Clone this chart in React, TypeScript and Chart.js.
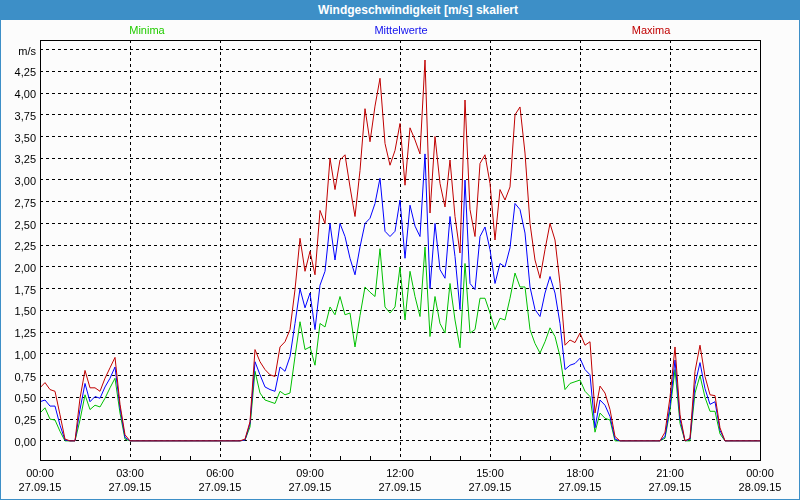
import React, { useEffect, useRef } from "react";
import { Chart, registerables } from "chart.js";

Chart.register(...registerables);

const TITLE = "Windgeschwindigkeit [m/s] skaliert";
const SERIES_NAMES = ["Minima", "Mittelwerte", "Maxima"];
const SERIES_COLORS = ["#00c000", "#0000ff", "#c00000"];
const LEGEND_TEXT_COLORS = ["#22cc00", "#1010ee", "#c00000"];
const Y_UNIT = "m/s";
const Y_TICK_VALUES = [0, 0.25, 0.5, 0.75, 1, 1.25, 1.5, 1.75, 2, 2.25, 2.5, 2.75, 3, 3.25, 3.5, 3.75, 4, 4.25, 4.5];
const X_TICK_VALUES = [0, 180, 360, 540, 720, 900, 1080, 1260, 1440];
const X_TICK_LABELS = [
  ["00:00", "27.09.15"],
  ["03:00", "27.09.15"],
  ["06:00", "27.09.15"],
  ["09:00", "27.09.15"],
  ["12:00", "27.09.15"],
  ["15:00", "27.09.15"],
  ["18:00", "27.09.15"],
  ["21:00", "27.09.15"],
  ["00:00", "28.09.15"],
];
const STEP_MINUTES = 10;

const MAXIMA = [
  0.61, 0.67, 0.59, 0.57, 0.3, 0.02, 0, 0, 0.49, 0.81, 0.61, 0.61, 0.57, 0.72, 0.84, 0.96, 0.42, 0.07,
  0, 0, 0, 0, 0, 0, 0, 0, 0, 0, 0, 0, 0, 0, 0, 0, 0, 0, 0, 0, 0, 0, 0,
  0.02, 0.22, 1.05, 0.91, 0.82, 0.76, 0.74, 1.08, 1.14, 1.28, 1.74, 2.33, 1.95, 2.18, 1.91, 2.65, 2.5,
  3.25, 2.89, 3.23, 3.29, 2.92, 2.58, 3.11, 3.82, 3.44, 3.85, 4.17, 3.42, 3.17, 3.34, 3.65, 2.94, 3.6,
  3.46, 3.3, 4.38, 2.62, 3.5, 2.96, 2.69, 3.23, 2.58, 2.16, 3.92, 2.66, 2.35, 3.19, 3.29, 2.96, 2.31,
  2.89, 2.77, 2.92, 3.75, 3.84, 3.31, 2.5, 2.08, 1.87, 2.2, 2.5, 2.31, 1.81, 1.1, 1.16, 1.13, 1.24,
  1.1, 1.14, 0.32, 0.63, 0.55, 0.36, 0.05,
  0, 0, 0, 0, 0, 0, 0, 0, 0,
  0.1, 0.5, 1.08, 0.3, 0, 0.03, 0.8, 1.1, 0.74, 0.53, 0.52, 0.15,
  0, 0, 0, 0, 0, 0, 0, 0,
];

const MITTELWERTE = [
  0.45, 0.47, 0.4, 0.4, 0.18, 0.01, 0, 0, 0.36, 0.66, 0.45, 0.51, 0.49, 0.62, 0.72, 0.85, 0.38, 0.04,
  0, 0, 0, 0, 0, 0, 0, 0, 0, 0, 0, 0, 0, 0, 0, 0, 0, 0, 0, 0, 0, 0, 0,
  0.01, 0.2, 0.91, 0.76, 0.62, 0.59, 0.57, 0.85, 0.8, 0.97, 1.35, 1.75, 1.53, 1.7, 1.28, 1.79, 1.95,
  2.5, 2.08, 2.5, 2.35, 2.1, 1.91, 2.23, 2.5, 2.56, 2.73, 3.02, 2.41, 2.35, 2.41, 2.77, 2.1, 2.71,
  2.47, 2.35, 3.3, 1.75, 2.5, 1.97, 1.87, 2.58, 2.12, 1.51, 3.0, 1.81, 1.74, 2.35, 2.46, 2.2, 1.81,
  2.04, 2.0, 2.22, 2.73, 2.66, 2.39, 1.77, 1.51, 1.43, 1.7, 1.89, 1.7, 1.35, 0.82, 0.87, 0.89, 0.95,
  0.82, 0.76, 0.15, 0.47, 0.41, 0.28, 0.02,
  0, 0, 0, 0, 0, 0, 0, 0, 0,
  0.05, 0.4, 0.93, 0.25, 0, 0.02, 0.65, 0.9, 0.6, 0.42, 0.45, 0.12,
  0, 0, 0, 0, 0, 0, 0, 0,
];

const MINIMA = [
  0.32, 0.38, 0.25, 0.24, 0.11, 0, 0, 0, 0.24, 0.53, 0.36, 0.41, 0.39, 0.49, 0.61, 0.72, 0.32, 0.02,
  0, 0, 0, 0, 0, 0, 0, 0, 0, 0, 0, 0, 0, 0, 0, 0, 0, 0, 0, 0, 0, 0, 0,
  0.01, 0.16, 0.8, 0.55, 0.47, 0.45, 0.43, 0.57, 0.53, 0.55, 0.97, 1.37, 1.05, 1.08, 0.87, 1.35, 1.31,
  1.54, 1.45, 1.66, 1.45, 1.47, 1.08, 1.44, 1.77, 1.71, 1.66, 2.21, 1.54, 1.47, 1.54, 2.0, 1.39, 1.95,
  1.66, 1.43, 2.23, 1.2, 1.66, 1.35, 1.24, 1.81, 1.39, 1.07, 2.04, 1.24, 1.28, 1.64, 1.64, 1.47, 1.28,
  1.41, 1.39, 1.64, 1.93, 1.77, 1.77, 1.28, 1.12, 1.01, 1.14, 1.3, 1.2, 0.97, 0.59, 0.66, 0.68, 0.7,
  0.57, 0.51, 0.1, 0.32, 0.26, 0.24, 0,
  0, 0, 0, 0, 0, 0, 0, 0, 0,
  0.03, 0.35, 0.82, 0.2, 0, 0, 0.55, 0.75, 0.5, 0.34, 0.34, 0.08,
  0, 0, 0, 0, 0, 0, 0, 0,
];

const FONT = '"Liberation Sans", Arial, sans-serif';

const toPoints = (arr: number[]) => arr.map((y, i) => ({ x: i * STEP_MINUTES, y }));

const framePlugin = {
  id: "frameAndLabels",
  afterDraw(chart: any) {
    const { ctx, chartArea: a, scales } = chart;
    const xs = scales.x;
    const align = (p: number) => Math.round(p - 0.5) + 0.5;
    ctx.save();
    ctx.setLineDash([]);
    ctx.strokeStyle = "#000";
    ctx.lineWidth = 1;
    // hourly minor ticks
    ctx.beginPath();
    for (let m = 60; m < 1440; m += 60) {
      if (m % 180 === 0) continue;
      const px = align(xs.getPixelForValue(m));
      ctx.moveTo(px, a.bottom);
      ctx.lineTo(px, a.bottom - 4);
    }
    ctx.stroke();
    // plot frame
    const l = align(a.left);
    const t = align(a.top);
    const r = align(a.right);
    const b = align(a.bottom);
    ctx.strokeRect(l, t, r - l, b - t);
    // series labels above plot
    ctx.font = `11px ${FONT}`;
    ctx.textAlign = "center";
    ctx.textBaseline = "middle";
    const fr = [0.1486, 0.5014, 0.8486];
    SERIES_NAMES.forEach((name, i) => {
      ctx.fillStyle = LEGEND_TEXT_COLORS[i];
      ctx.fillText(name, a.left + fr[i] * (a.right - a.left), a.top - 9);
    });
    ctx.restore();
  },
};

export default function App() {
  const canvasRef = useRef<HTMLCanvasElement | null>(null);

  useEffect(() => {
    if (!canvasRef.current) return;
    const chart = new Chart(canvasRef.current, {
      type: "line",
      data: {
        datasets: [
          { label: SERIES_NAMES[2], data: toPoints(MAXIMA), borderColor: SERIES_COLORS[2], backgroundColor: SERIES_COLORS[2] },
          { label: SERIES_NAMES[1], data: toPoints(MITTELWERTE), borderColor: SERIES_COLORS[1], backgroundColor: SERIES_COLORS[1] },
          { label: SERIES_NAMES[0], data: toPoints(MINIMA), borderColor: SERIES_COLORS[0], backgroundColor: SERIES_COLORS[0] },
        ],
      },
      options: {
        animation: false,
        responsive: false,
        maintainAspectRatio: false,
        devicePixelRatio: 1,
        layout: { padding: { top: 40, right: 40, left: 0, bottom: 0 } },
        elements: {
          point: { radius: 0, hoverRadius: 0 },
          line: { borderWidth: 1, tension: 0, fill: false },
        },
        plugins: {
          legend: { display: false },
          title: { display: false },
          tooltip: { enabled: false },
        },
        events: [],
        scales: {
          x: {
            type: "linear",
            min: 0,
            max: 1440,
            afterBuildTicks: (s: any) => {
              s.ticks = X_TICK_VALUES.map((v) => ({ value: v }));
            },
            afterFit: (s: any) => {
              s.height = 40;
            },
            grid: {
              drawTicks: false,
              lineWidth: 1,
              color: (c: any) =>
                c.tick && (c.tick.value === 0 || c.tick.value === 1440) ? "rgba(0,0,0,0)" : "#000",
            },
            border: { display: false, dash: [3, 3] },
            ticks: {
              autoSkip: false,
              maxRotation: 0,
              padding: 7,
              color: "#000",
              font: { family: FONT, size: 11, lineHeight: 1.27 },
              callback: (v: any) => X_TICK_LABELS[X_TICK_VALUES.indexOf(Number(v))] ?? "",
            },
          },
          y: {
            type: "linear",
            min: -0.22,
            max: 4.61,
            afterBuildTicks: (s: any) => {
              s.ticks = Y_TICK_VALUES.map((v) => ({ value: v }));
            },
            afterFit: (s: any) => {
              s.width = 40;
            },
            grid: { drawTicks: false, lineWidth: 1, color: "#000" },
            border: { display: false, dash: [3, 3] },
            ticks: {
              padding: 4,
              labelOffset: 2,
              color: "#000",
              font: { family: FONT, size: 11 },
              callback: (v: any) => {
                const n = Number(v);
                if (Math.abs(n - 4.5) < 1e-6) return Y_UNIT;
                return n.toFixed(2).replace(".", ",");
              },
            },
          },
        },
      },
      plugins: [framePlugin],
    } as any);
    return () => chart.destroy();
  }, []);

  return (
    <div
      style={{
        position: "absolute",
        left: 0,
        top: 0,
        width: 800,
        height: 500,
        boxSizing: "border-box",
        background: "#fcfcfc",
        borderLeft: "1px solid #3d8fc7",
        borderRight: "1px solid #3d8fc7",
        borderBottom: "1px solid #3d8fc7",
        overflow: "hidden",
      }}
    >
      <canvas
        ref={canvasRef}
        width={800}
        height={500}
        style={{ position: "absolute", left: -1, top: 0, width: 800, height: 500 }}
      />
      <div
        style={{
          position: "absolute",
          left: -1,
          top: 0,
          width: 800,
          height: 20,
          boxSizing: "border-box",
          paddingLeft: 36,
          background: "#3d8fc7",
          color: "#ffffff",
          font: `bold 12px ${FONT}`,
          lineHeight: "20px",
          textAlign: "center",
        }}
      >
        {TITLE}
      </div>
    </div>
  );
}
